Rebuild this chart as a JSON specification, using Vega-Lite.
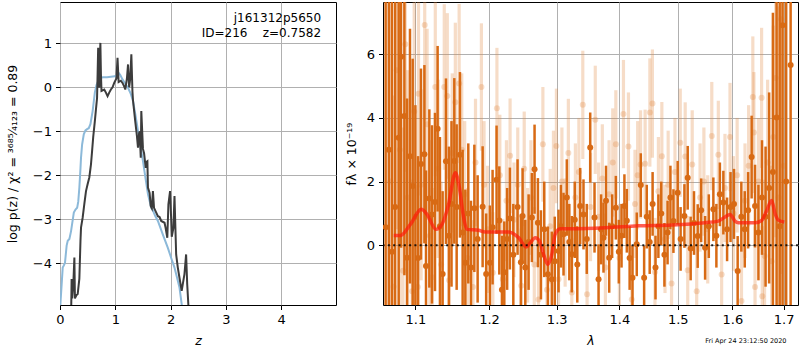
{
  "$schema": "https://vega.github.io/schema/vega-lite/v6.json",
  "padding": {"left": 5, "top": 1, "right": 0, "bottom": 0},
  "background": "white",
  "title": {"text": "Fri Apr 24 23:12:50 2020", "orient": "bottom", "anchor": "end", "fontSize": 6.5, "fontWeight": "normal", "offset": -10, "dx": -13, "color": "black"},
  "datasets": {
    "blue": [
      {"z":0.0,"lp":-5.3},{"z":0.007,"lp":-4.93},{"z":0.049,"lp":-4.1},{"z":0.07,"lp":-4.05},{"z":0.09,"lp":-3.99},{"z":0.12,"lp":-3.6},{"z":0.14,"lp":-3.49},{"z":0.17,"lp":-3.45},{"z":0.2,"lp":-3.27},{"z":0.22,"lp":-3.1},{"z":0.25,"lp":-2.85},{"z":0.28,"lp":-2.78},{"z":0.31,"lp":-2.74},{"z":0.33,"lp":-2.6},{"z":0.35,"lp":-2.28},{"z":0.37,"lp":-1.85},{"z":0.38,"lp":-1.6},{"z":0.4,"lp":-1.3},{"z":0.43,"lp":-1.07},{"z":0.46,"lp":-0.98},{"z":0.49,"lp":-0.95},{"z":0.52,"lp":-0.93},{"z":0.55,"lp":-0.84},{"z":0.59,"lp":-0.54},{"z":0.61,"lp":-0.33},{"z":0.63,"lp":-0.12},{"z":0.66,"lp":0.05},{"z":0.69,"lp":0.14},{"z":0.73,"lp":0.21},{"z":0.77,"lp":0.23},{"z":0.85,"lp":0.23},{"z":0.92,"lp":0.24},{"z":0.99,"lp":0.25},{"z":1.03,"lp":0.28},{"z":1.06,"lp":0.33},{"z":1.09,"lp":0.28},{"z":1.13,"lp":0.18},{"z":1.18,"lp":0.08},{"z":1.23,"lp":-0.01},{"z":1.28,"lp":-0.15},{"z":1.32,"lp":-0.31},{"z":1.36,"lp":-0.6},{"z":1.41,"lp":-0.99},{"z":1.45,"lp":-1.3},{"z":1.5,"lp":-1.68},{"z":1.55,"lp":-2.1},{"z":1.59,"lp":-2.43},{"z":1.65,"lp":-2.74},{"z":1.68,"lp":-2.8},{"z":1.72,"lp":-2.92},{"z":1.77,"lp":-3.04},{"z":1.86,"lp":-3.35},{"z":1.95,"lp":-3.65},{"z":2.01,"lp":-3.88},{"z":2.07,"lp":-4.1},{"z":2.12,"lp":-4.35},{"z":2.16,"lp":-4.55},{"z":2.2,"lp":-4.93},{"z":2.24,"lp":-5.3}
    ],
    "dark": [
      {"z":0.2,"lp":-5.3},{"z":0.21,"lp":-4.36},{"z":0.22,"lp":-4.8},{"z":0.24,"lp":-4.5},{"z":0.26,"lp":-3.87},{"z":0.27,"lp":-4.8},{"z":0.3,"lp":-4.72},{"z":0.32,"lp":-4.7},{"z":0.35,"lp":-4.35},{"z":0.37,"lp":-3.5},{"z":0.38,"lp":-3.19},{"z":0.41,"lp":-2.96},{"z":0.44,"lp":-2.65},{"z":0.47,"lp":-2.36},{"z":0.5,"lp":-2.2},{"z":0.53,"lp":-2.05},{"z":0.56,"lp":-1.75},{"z":0.58,"lp":-1.45},{"z":0.6,"lp":-1.14},{"z":0.63,"lp":-0.77},{"z":0.65,"lp":-0.5},{"z":0.67,"lp":-0.24},{"z":0.68,"lp":0.3},{"z":0.69,"lp":0.9},{"z":0.7,"lp":0.2},{"z":0.71,"lp":-0.01},{"z":0.72,"lp":0.6},{"z":0.73,"lp":1.01},{"z":0.74,"lp":0.3},{"z":0.75,"lp":-0.08},{"z":0.8,"lp":-0.05},{"z":0.83,"lp":-0.12},{"z":0.86,"lp":-0.2},{"z":0.89,"lp":-0.12},{"z":0.92,"lp":-0.05},{"z":0.95,"lp":0.0},{"z":0.98,"lp":0.1},{"z":1.02,"lp":0.2},{"z":1.04,"lp":0.67},{"z":1.06,"lp":0.12},{"z":1.1,"lp":0.15},{"z":1.13,"lp":0.1},{"z":1.16,"lp":0.02},{"z":1.18,"lp":-0.05},{"z":1.21,"lp":0.2},{"z":1.23,"lp":0.52},{"z":1.25,"lp":0.0},{"z":1.27,"lp":0.2},{"z":1.29,"lp":0.75},{"z":1.31,"lp":-0.1},{"z":1.32,"lp":-0.3},{"z":1.36,"lp":-0.77},{"z":1.39,"lp":-1.1},{"z":1.41,"lp":-1.37},{"z":1.43,"lp":-1.05},{"z":1.44,"lp":-1.0},{"z":1.46,"lp":-1.6},{"z":1.47,"lp":-0.54},{"z":1.5,"lp":-1.4},{"z":1.52,"lp":-1.5},{"z":1.55,"lp":-1.83},{"z":1.56,"lp":-1.7},{"z":1.58,"lp":-1.68},{"z":1.59,"lp":-2.28},{"z":1.62,"lp":-2.4},{"z":1.64,"lp":-2.7},{"z":1.66,"lp":-2.75},{"z":1.68,"lp":-2.36},{"z":1.7,"lp":-2.74},{"z":1.74,"lp":-2.85},{"z":1.77,"lp":-2.93},{"z":1.8,"lp":-2.95},{"z":1.83,"lp":-3.04},{"z":1.89,"lp":-3.08},{"z":1.91,"lp":-3.2},{"z":1.94,"lp":-3.42},{"z":1.96,"lp":-2.66},{"z":1.99,"lp":-2.36},{"z":2.01,"lp":-3.0},{"z":2.02,"lp":-3.4},{"z":2.05,"lp":-3.2},{"z":2.07,"lp":-2.47},{"z":2.1,"lp":-3.8},{"z":2.13,"lp":-4.1},{"z":2.16,"lp":-4.33},{"z":2.2,"lp":-4.63},{"z":2.25,"lp":-4.25},{"z":2.28,"lp":-3.8},{"z":2.3,"lp":-4.48},{"z":2.32,"lp":-4.93},{"z":2.34,"lp":-5.4}
    ],
    "specDark": [
      {"l":1.062,"f":0.57,"e":12},{"l":1.066,"f":3.0,"e":12},{"l":1.07,"f":-0.2,"e":11},{"l":1.074,"f":1.2,"e":9},{"l":1.0785,"f":3.38,"e":7},{"l":1.0815,"f":5.92,"e":6},{"l":1.0858,"f":4.06,"e":5},{"l":1.0892,"f":-0.39,"e":5},{"l":1.093,"f":2.8,"e":4},{"l":1.0965,"f":1.86,"e":4},{"l":1.1,"f":0.9,"e":3.5},{"l":1.1035,"f":-0.4,"e":3.2},{"l":1.1073,"f":2.55,"e":3.0},{"l":1.1118,"f":2.86,"e":2.8},{"l":1.1139,"f":-0.65,"e":3.0},{"l":1.1183,"f":1.47,"e":2.8},{"l":1.1218,"f":0.97,"e":2.8},{"l":1.1258,"f":1.36,"e":2.8},{"l":1.1293,"f":3.66,"e":2.6},{"l":1.1324,"f":0.6,"e":2.8},{"l":1.136,"f":-0.9,"e":2.6},{"l":1.1405,"f":2.64,"e":2.6},{"l":1.1445,"f":0.3,"e":2.8},{"l":1.148,"f":1.3,"e":2.6},{"l":1.1518,"f":2.65,"e":2.6},{"l":1.155,"f":1.2,"e":2.6},{"l":1.1595,"f":2.84,"e":2.6},{"l":1.1632,"f":0.4,"e":2.6},{"l":1.1669,"f":-0.55,"e":2.3},{"l":1.171,"f":1.0,"e":2.2},{"l":1.1747,"f":-0.7,"e":2.1},{"l":1.1794,"f":1.16,"e":2.0},{"l":1.184,"f":0.2,"e":2.0},{"l":1.191,"f":1.21,"e":1.9},{"l":1.196,"f":-0.9,"e":1.9},{"l":1.2013,"f":-0.55,"e":1.8},{"l":1.2051,"f":0.57,"e":1.8},{"l":1.2108,"f":2.06,"e":1.7},{"l":1.2147,"f":0.78,"e":1.7},{"l":1.2185,"f":-1.4,"e":1.7},{"l":1.2219,"f":-0.85,"e":1.6},{"l":1.226,"f":0.2,"e":1.6},{"l":1.23,"f":0.84,"e":1.6},{"l":1.235,"f":-0.3,"e":1.6},{"l":1.2412,"f":1.2,"e":1.5},{"l":1.2461,"f":-0.53,"e":1.5},{"l":1.2486,"f":0.92,"e":1.5},{"l":1.2526,"f":-0.7,"e":1.5},{"l":1.2575,"f":0.1,"e":1.5},{"l":1.2624,"f":0.87,"e":1.4},{"l":1.2664,"f":2.39,"e":1.4},{"l":1.2714,"f":0.71,"e":1.4},{"l":1.276,"f":-0.3,"e":1.4},{"l":1.281,"f":0.5,"e":1.5},{"l":1.2865,"f":-0.91,"e":1.5},{"l":1.2925,"f":-1.07,"e":1.5},{"l":1.297,"f":-0.5,"e":1.4},{"l":1.3028,"f":-0.18,"e":1.3},{"l":1.3065,"f":0.6,"e":1.3},{"l":1.3105,"f":0.35,"e":1.3},{"l":1.3156,"f":1.5,"e":1.2},{"l":1.3195,"f":0.1,"e":1.2},{"l":1.3234,"f":-0.28,"e":1.2},{"l":1.328,"f":0.8,"e":1.2},{"l":1.332,"f":-0.6,"e":1.2},{"l":1.3366,"f":1.23,"e":1.2},{"l":1.3418,"f":0.97,"e":1.1},{"l":1.347,"f":0.2,"e":1.1},{"l":1.3525,"f":3.07,"e":1.1},{"l":1.3594,"f":0.87,"e":1.1},{"l":1.3659,"f":-1.07,"e":1.1},{"l":1.37,"f":0.5,"e":1.1},{"l":1.3739,"f":0.24,"e":1.1},{"l":1.378,"f":1.4,"e":1.1},{"l":1.3832,"f":-0.39,"e":1.1},{"l":1.388,"f":0.6,"e":1.0},{"l":1.3941,"f":1.18,"e":1.0},{"l":1.399,"f":-0.2,"e":1.0},{"l":1.4035,"f":0.3,"e":1.0},{"l":1.4083,"f":1.23,"e":1.0},{"l":1.4123,"f":0.77,"e":1.0},{"l":1.417,"f":-0.4,"e":1.0},{"l":1.4218,"f":-1.02,"e":1.0},{"l":1.429,"f":0.03,"e":1.0},{"l":1.4358,"f":1.89,"e":1.0},{"l":1.4415,"f":-1.02,"e":1.0},{"l":1.446,"f":0.9,"e":1.0},{"l":1.451,"f":0.1,"e":1.0},{"l":1.456,"f":1.3,"e":1.0},{"l":1.461,"f":-0.7,"e":1.0},{"l":1.466,"f":0.6,"e":1.0},{"l":1.471,"f":1.0,"e":1.0},{"l":1.4765,"f":-0.3,"e":1.0},{"l":1.482,"f":0.4,"e":1.0},{"l":1.487,"f":1.5,"e":1.0},{"l":1.4923,"f":0.76,"e":1.0},{"l":1.4998,"f":1.65,"e":1.0},{"l":1.505,"f":0.2,"e":1.0},{"l":1.5118,"f":0.92,"e":1.0},{"l":1.5177,"f":2.12,"e":1.0},{"l":1.523,"f":-0.1,"e":1.0},{"l":1.529,"f":0.7,"e":1.0},{"l":1.5357,"f":0.29,"e":1.0},{"l":1.542,"f":1.1,"e":1.0},{"l":1.5492,"f":-0.08,"e":1.0},{"l":1.556,"f":0.6,"e":1.0},{"l":1.5644,"f":1.13,"e":1.0},{"l":1.57,"f":0.3,"e":1.0},{"l":1.5765,"f":1.6,"e":1.0},{"l":1.583,"f":1.34,"e":1.0},{"l":1.59,"f":0.5,"e":1.0},{"l":1.5965,"f":1.2,"e":1.1},{"l":1.603,"f":1.3,"e":1.1},{"l":1.61,"f":-0.81,"e":1.1},{"l":1.617,"f":0.9,"e":1.1},{"l":1.6235,"f":0.5,"e":1.2},{"l":1.63,"f":1.1,"e":1.2},{"l":1.6368,"f":2.77,"e":1.3},{"l":1.6434,"f":1.23,"e":1.3},{"l":1.65,"f":0.4,"e":1.5},{"l":1.657,"f":1.5,"e":1.8},{"l":1.664,"f":0.9,"e":2.2},{"l":1.671,"f":1.8,"e":3},{"l":1.6785,"f":2.3,"e":5},{"l":1.6858,"f":4.01,"e":8},{"l":1.692,"f":0.6,"e":10},{"l":1.6977,"f":6.91,"e":10},{"l":1.705,"f":2.0,"e":12},{"l":1.714,"f":5.66,"e":12}
    ],
    "specLight": [
      {"l":1.068,"f":2.0,"e":6},{"l":1.072,"f":-1.3,"e":6},{"l":1.076,"f":5.5,"e":5},{"l":1.08,"f":3.0,"e":5},{"l":1.084,"f":-0.8,"e":4.5},{"l":1.087,"f":6.31,"e":4},{"l":1.09,"f":1.5,"e":4},{"l":1.0958,"f":-1.44,"e":3.5},{"l":1.0985,"f":4.2,"e":3.5},{"l":1.1031,"f":-1.31,"e":3.2},{"l":1.1041,"f":4.76,"e":3.2},{"l":1.1075,"f":1.9,"e":3},{"l":1.1122,"f":6.92,"e":3},{"l":1.1154,"f":3.8,"e":3},{"l":1.119,"f":0.3,"e":3},{"l":1.122,"f":-1.0,"e":2.8},{"l":1.1262,"f":4.97,"e":2.8},{"l":1.13,"f":2.4,"e":2.8},{"l":1.134,"f":-0.6,"e":2.6},{"l":1.1382,"f":4.97,"e":2.6},{"l":1.1423,"f":4.69,"e":2.6},{"l":1.1447,"f":-1.1,"e":2.6},{"l":1.149,"f":2.9,"e":2.5},{"l":1.1532,"f":4.49,"e":2.5},{"l":1.1584,"f":5.08,"e":2.5},{"l":1.162,"f":3.0,"e":2.4},{"l":1.166,"f":1.6,"e":2.3},{"l":1.17,"f":-0.4,"e":2.2},{"l":1.1775,"f":-1.31,"e":2.1},{"l":1.181,"f":2.6,"e":2.0},{"l":1.1893,"f":4.97,"e":2.0},{"l":1.193,"f":1.9,"e":2.0},{"l":1.198,"f":0.5,"e":2.0},{"l":1.2055,"f":-0.86,"e":1.9},{"l":1.2113,"f":4.3,"e":1.9},{"l":1.2155,"f":2.2,"e":1.9},{"l":1.2197,"f":-1.07,"e":1.9},{"l":1.225,"f":1.4,"e":1.9},{"l":1.2303,"f":2.81,"e":1.8},{"l":1.236,"f":0.8,"e":1.8},{"l":1.2415,"f":1.9,"e":1.8},{"l":1.2466,"f":-1.27,"e":1.8},{"l":1.251,"f":2.4,"e":1.8},{"l":1.256,"f":0.0,"e":1.8},{"l":1.261,"f":1.5,"e":1.8},{"l":1.266,"f":-0.6,"e":1.8},{"l":1.2723,"f":-1.7,"e":1.8},{"l":1.2789,"f":3.17,"e":1.8},{"l":1.2851,"f":-1.4,"e":1.8},{"l":1.29,"f":0.6,"e":1.8},{"l":1.295,"f":1.8,"e":1.8},{"l":1.2995,"f":3.12,"e":1.8},{"l":1.3028,"f":-1.07,"e":1.8},{"l":1.308,"f":2.0,"e":1.7},{"l":1.313,"f":0.4,"e":1.7},{"l":1.318,"f":2.9,"e":1.7},{"l":1.3234,"f":-1.48,"e":1.7},{"l":1.329,"f":1.5,"e":1.7},{"l":1.3345,"f":2.3,"e":1.7},{"l":1.3407,"f":4.41,"e":1.7},{"l":1.3475,"f":-1.54,"e":1.7},{"l":1.353,"f":1.2,"e":1.7},{"l":1.3606,"f":3.94,"e":1.7},{"l":1.366,"f":0.9,"e":1.7},{"l":1.372,"f":2.1,"e":1.7},{"l":1.377,"f":-0.7,"e":1.7},{"l":1.383,"f":1.6,"e":1.7},{"l":1.389,"f":2.6,"e":1.7},{"l":1.3941,"f":3.17,"e":1.7},{"l":1.4,"f":-0.4,"e":1.7},{"l":1.4067,"f":4.12,"e":1.7},{"l":1.415,"f":3.1,"e":1.7},{"l":1.4206,"f":-1.7,"e":1.7},{"l":1.426,"f":1.3,"e":1.7},{"l":1.4305,"f":2.2,"e":1.7},{"l":1.4354,"f":2.54,"e":1.7},{"l":1.4432,"f":2.56,"e":1.7},{"l":1.4513,"f":4.17,"e":1.7},{"l":1.4557,"f":4.45,"e":1.7},{"l":1.4601,"f":-0.84,"e":1.7},{"l":1.466,"f":1.7,"e":1.7},{"l":1.472,"f":2.8,"e":1.7},{"l":1.4775,"f":0.2,"e":1.7},{"l":1.483,"f":1.9,"e":1.7},{"l":1.489,"f":-1.2,"e":1.7},{"l":1.495,"f":2.3,"e":1.7},{"l":1.5044,"f":3.22,"e":1.7},{"l":1.5132,"f":2.79,"e":1.7},{"l":1.5177,"f":-0.78,"e":1.7},{"l":1.5258,"f":2.54,"e":1.7},{"l":1.5339,"f":-1.44,"e":1.7},{"l":1.54,"f":1.5,"e":1.7},{"l":1.547,"f":2.0,"e":1.7},{"l":1.554,"f":0.5,"e":1.7},{"l":1.5615,"f":3.43,"e":1.7},{"l":1.5736,"f":2.84,"e":1.7},{"l":1.5798,"f":-0.92,"e":1.7},{"l":1.586,"f":1.8,"e":1.7},{"l":1.5955,"f":3.4,"e":1.7},{"l":1.602,"f":1.0,"e":1.8},{"l":1.609,"f":2.2,"e":1.8},{"l":1.6173,"f":-1.75,"e":1.8},{"l":1.624,"f":1.4,"e":1.8},{"l":1.631,"f":2.5,"e":1.9},{"l":1.6391,"f":4.66,"e":1.9},{"l":1.6412,"f":3.54,"e":1.9},{"l":1.6434,"f":-1.31,"e":1.9},{"l":1.65,"f":2.0,"e":2.0},{"l":1.6562,"f":4.63,"e":2.2},{"l":1.6575,"f":-1.6,"e":2.2},{"l":1.662,"f":-0.34,"e":2.4},{"l":1.668,"f":2.6,"e":2.6},{"l":1.6759,"f":-0.5,"e":3},{"l":1.6793,"f":3.4,"e":3.5},{"l":1.684,"f":5.25,"e":5},{"l":1.6895,"f":1.5,"e":6},{"l":1.695,"f":7.1,"e":8},{"l":1.7,"f":2.5,"e":8}
    ],
    "model": [
      {"l":1.0722,"m":0.31},{"l":1.0807,"m":0.31},{"l":1.0935,"m":0.66},{"l":1.1078,"m":1.13},{"l":1.1152,"m":0.97},{"l":1.1271,"m":0.5},{"l":1.1351,"m":0.66},{"l":1.1441,"m":1.29},{"l":1.1532,"m":2.28},{"l":1.1587,"m":1.81},{"l":1.1646,"m":0.87},{"l":1.1691,"m":0.5},{"l":1.1853,"m":0.47},{"l":1.1948,"m":0.42},{"l":1.2281,"m":0.42},{"l":1.2427,"m":0.24},{"l":1.254,"m":-0.05},{"l":1.26,"m":0.08},{"l":1.2674,"m":0.24},{"l":1.2739,"m":0.13},{"l":1.2799,"m":-0.28},{"l":1.2865,"m":-0.6},{"l":1.2925,"m":-0.28},{"l":1.2977,"m":0.35},{"l":1.3054,"m":0.52},{"l":1.3234,"m":0.52},{"l":1.3767,"m":0.55},{"l":1.4318,"m":0.61},{"l":1.4893,"m":0.64},{"l":1.5492,"m":0.71},{"l":1.5736,"m":0.76},{"l":1.5862,"m":0.89},{"l":1.5955,"m":0.97},{"l":1.605,"m":0.76},{"l":1.6113,"m":0.71},{"l":1.6434,"m":0.71},{"l":1.6562,"m":0.78},{"l":1.666,"m":1.08},{"l":1.6759,"m":1.41},{"l":1.6827,"m":1.0},{"l":1.6893,"m":0.79},{"l":1.7012,"m":0.73}
    ]
  },
  "spacing": 7,
  "hconcat": [
    {
      "width": 276,
      "height": 303,
      "layer": [
        {
          "data": {"name": "blue"},
          "mark": {"type": "line", "color": "#8cb9d9", "strokeWidth": 2, "clip": true},
          "encoding": {
            "x": {"field": "z", "type": "quantitative", "scale": {"domain": [0, 4.99], "nice": false, "zero": false},
                  "axis": {"values": [0, 1, 2, 3, 4], "title": "z", "titleFontStyle": "italic", "titlePadding": 8}},
            "y": {"field": "lp", "type": "quantitative", "scale": {"domain": [-4.95, 1.94], "nice": false, "zero": false},
                  "axis": {"values": [-4, -3, -2, -1, 0, 1], "title": "log p(z) / χ² = ³⁶⁸⁵⁄₄₁₂₃ = 0.89", "titlePadding": 13}}
          }
        },
        {
          "data": {"name": "dark"},
          "mark": {"type": "line", "color": "#3c3c3c", "strokeWidth": 2, "clip": true},
          "encoding": {
            "x": {"field": "z", "type": "quantitative"},
            "y": {"field": "lp", "type": "quantitative"}
          }
        },
        {
          "data": {"values": [{}]},
          "mark": {"type": "text", "align": "right", "baseline": "top", "fontSize": 12, "lineHeight": 15, "color": "black"},
          "encoding": {
            "x": {"datum": 4.72, "type": "quantitative"},
            "y": {"datum": 1.7, "type": "quantitative"},
            "text": {"value": ["j161312p5650", "ID=216\u00a0\u00a0\u00a0\u00a0z=0.7582"]}
          }
        }
      ]
    },
    {
      "width": 415,
      "height": 303,
      "layer": [
        {
          "data": {"name": "specLight"},
          "mark": {"type": "errorbar", "ticks": false, "thickness": 3.2, "color": "#e08a45", "opacity": 0.3, "clip": true},
          "encoding": {
            "x": {"field": "l", "type": "quantitative", "title": "λ", "scale": {"type": "log", "domain": [1.0587, 1.729], "nice": false},
                  "axis": {"values": [1.1, 1.2, 1.3, 1.4, 1.5, 1.6, 1.7], "format": ".1f", "titleFontStyle": "italic", "titlePadding": 8}},
            "y": {"field": "f", "type": "quantitative", "title": "fλ × 10⁻¹⁹", "scale": {"domain": [-1.875, 7.64], "nice": false, "zero": false},
                  "axis": {"values": [0, 2, 4, 6], "titlePadding": 8}},
            "yError": {"field": "e"}
          }
        },
        {
          "data": {"name": "specLight"},
          "mark": {"type": "point", "filled": true, "size": 36, "color": "#e08a45", "opacity": 0.3, "clip": true},
          "encoding": {
            "x": {"field": "l", "type": "quantitative", "title": "λ"},
            "y": {"field": "f", "type": "quantitative", "title": "fλ × 10⁻¹⁹"}
          }
        },
        {
          "data": {"name": "specDark"},
          "mark": {"type": "errorbar", "ticks": false, "thickness": 2.5, "color": "#d86a14", "clip": true},
          "encoding": {
            "x": {"field": "l", "type": "quantitative", "title": "λ"},
            "y": {"field": "f", "type": "quantitative", "title": "fλ × 10⁻¹⁹"},
            "yError": {"field": "e"}
          }
        },
        {
          "data": {"name": "specDark"},
          "mark": {"type": "point", "filled": true, "size": 36, "color": "#d86a14", "opacity": 1, "clip": true},
          "encoding": {
            "x": {"field": "l", "type": "quantitative", "title": "λ"},
            "y": {"field": "f", "type": "quantitative", "title": "fλ × 10⁻¹⁹"}
          }
        },
        {
          "data": {"name": "model"},
          "mark": {"type": "line", "color": "#ff1a0a", "opacity": 0.7, "strokeWidth": 3.5, "interpolate": "monotone", "clip": true},
          "encoding": {
            "x": {"field": "l", "type": "quantitative", "title": "λ"},
            "y": {"field": "m", "type": "quantitative", "title": "fλ × 10⁻¹⁹"}
          }
        },
        {
          "data": {"values": [{}]},
          "mark": {"type": "rule", "color": "black", "strokeWidth": 2, "strokeDash": [2, 3.3], "opacity": 0.85},
          "encoding": {"y": {"datum": 0, "type": "quantitative", "title": "fλ × 10⁻¹⁹"}}
        }
      ]
    }
  ],
  "config": {
    "font": "DejaVu Sans",
    "view": {"stroke": "black", "strokeWidth": 1},
    "axis": {"grid": true, "gridColor": "#b0b0b0", "gridWidth": 1, "domain": false, "tickColor": "black", "tickSize": 4.5, "labelFontSize": 13, "labelColor": "black", "titleFontSize": 12.5, "titleFontWeight": "normal", "titleColor": "black", "labelPadding": 4, "labelFlush": false, "labelOverlap": false}
  }
}
